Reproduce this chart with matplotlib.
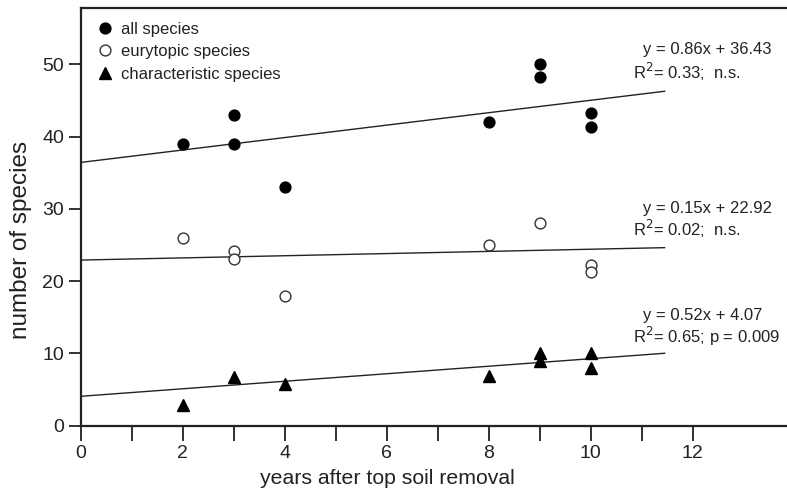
import matplotlib
matplotlib.use('Agg')
import matplotlib.pyplot as plt
import numpy as np

plt.rcParams['font.family'] = ['Liberation Sans', 'DejaVu Sans']

# data
all_x = [2, 3, 3, 4, 8, 9, 9, 10, 10]
all_y = [39, 43, 39, 33, 42, 50, 48.3, 43.3, 41.3]
eury_x = [2, 3, 3, 4, 8, 9, 10, 10]
eury_y = [26, 24.2, 23.1, 18, 25, 28, 22.3, 21.2]
char_x = [2, 3, 4, 8, 9, 9, 10, 10]
char_y = [2.9, 6.8, 5.8, 6.9, 10, 8.9, 10, 8]

# regression lines (slope, intercept) and their labels
fits = [(0.86, 36.43), (0.15, 22.92), (0.52, 4.07)]
fit_eq = ['y = 0.86x + 36.43', 'y = 0.15x + 22.92', 'y = 0.52x + 4.07']
fit_stat = ['R$^2$= 0.33;  n.s.', 'R$^2$= 0.02;  n.s.', 'R$^2$= 0.65; p = 0.009']
eq_pos = [(11.03, 52.0), (11.03, 30.1), (11.03, 15.2)]
stat_pos = [(10.83, 48.9), (10.83, 27.2), (10.83, 12.4)]

fig = plt.figure(figsize=(7.87, 4.90), dpi=100)
ax = fig.add_axes([0.1025, 0.1312, 0.8975, 0.8525])

ax.plot(all_x, all_y, 'o', color='black', markersize=7.8, label='all species', zorder=3)
ax.plot(eury_x, eury_y, 'o', markerfacecolor='white', markeredgecolor='#333333',
        markeredgewidth=1.0, markersize=7.8, label='eurytopic species', zorder=3)
ax.plot(char_x, char_y, '^', color='black', markersize=8, label='characteristic species', zorder=3)

xs = np.array([0, 11.45])
for (m, b) in fits:
    ax.plot(xs, m * xs + b, color='#222222', linewidth=1.0, zorder=2)

for txt, (x, y) in zip(fit_eq, eq_pos):
    ax.text(x, y, txt, fontsize=12, color='#222222', ha='left', va='center')
for txt, (x, y) in zip(fit_stat, stat_pos):
    ax.text(x, y, txt, fontsize=12, color='#222222', ha='left', va='center')

ax.set_xlim(0, 13.85)
ax.set_ylim(0, 57.8)
ax.set_xticks(range(0, 13, 2))
ax.set_xticks(range(1, 13, 2), minor=True)
ax.set_yticks(range(0, 51, 10))
ax.tick_params(axis='both', which='both', direction='out', length=9, width=1.3,
               labelsize=14, colors='#222222', pad=3)
ax.tick_params(axis='x', which='both', length=11)

for s in ['left', 'bottom', 'top']:
    ax.spines[s].set_linewidth(1.6)
    ax.spines[s].set_color('#222222')
ax.spines['right'].set_visible(False)

ax.set_xlabel('years after top soil removal', fontsize=15.3, color='#222222')
ax.set_ylabel('number of species', fontsize=17.5, color='#222222')
ax.xaxis.set_label_coords(0.434, -0.104)
ax.yaxis.set_label_coords(-0.069, 0.445)

leg = ax.legend(loc='upper left', frameon=False, fontsize=12, handletextpad=0.45,
                borderaxespad=0.3, labelspacing=0.45, handlelength=1.0,
                bbox_to_anchor=(0.006, 0.995))
for t in leg.get_texts():
    t.set_color('#222222')

fig.savefig('out.png', dpi=100)
